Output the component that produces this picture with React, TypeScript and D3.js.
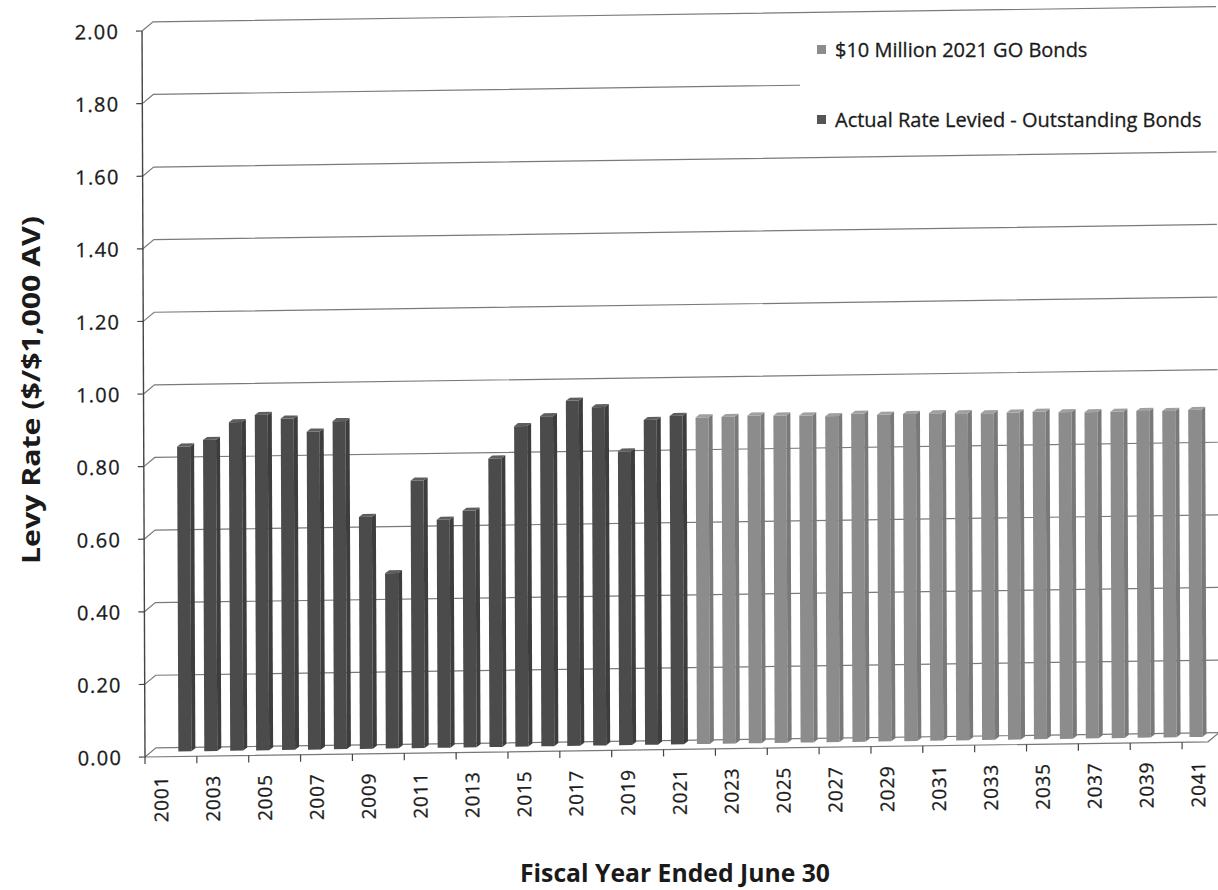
import React from 'react';
import * as d3 from 'd3';

const years = [2001, 2002, 2003, 2004, 2005, 2006, 2007, 2008, 2009, 2010, 2011, 2012, 2013, 2014, 2015, 2016, 2017, 2018, 2019, 2020, 2021, 2022, 2023, 2024, 2025, 2026, 2027, 2028, 2029, 2030, 2031, 2032, 2033, 2034, 2035, 2036, 2037, 2038, 2039, 2040, 2041];
const tickYears = [2001, 2003, 2005, 2007, 2009, 2011, 2013, 2015, 2017, 2019, 2021, 2023, 2025, 2027, 2029, 2031, 2033, 2035, 2037, 2039, 2041];
const outstandingYears = [2002, 2003, 2004, 2005, 2006, 2007, 2008, 2009, 2010, 2011, 2012, 2013, 2014, 2015, 2016, 2017, 2018, 2019, 2020, 2021];
const outstandingValues = [0.84, 0.857, 0.905, 0.924, 0.913, 0.876, 0.904, 0.639, 0.483, 0.737, 0.628, 0.652, 0.795, 0.883, 0.909, 0.951, 0.932, 0.809, 0.895, 0.905];
const goBondYears = [2022, 2023, 2024, 2025, 2026, 2027, 2028, 2029, 2030, 2031, 2032, 2033, 2034, 2035, 2036, 2037, 2038, 2039, 2040, 2041];
const goBondValues = [0.9, 0.9, 0.903, 0.902, 0.901, 0.898, 0.904, 0.9, 0.901, 0.902, 0.901, 0.9, 0.901, 0.902, 0.9, 0.899, 0.899, 0.9, 0.899, 0.901];
const yTicks = [0, 0.2, 0.4, 0.6, 0.8, 1.0, 1.2, 1.4, 1.6, 1.8, 2.0];
const legendLabels = ['$10 Million 2021 GO Bonds', 'Actual Rate Levied - Outstanding Bonds'];
const yTitle = 'Levy Rate ($/$1,000 AV)';
const xTitle = 'Fiscal Year Ended June 30';

const FONT = "'Open Sans', 'Liberation Sans', sans-serif";

type Palette = { front: string; side: string; top: string };
const darkPal: Palette = { front: '#4b4b4b', side: '#3d3d3d', top: '#5e5e5e' };
const lightPal: Palette = { front: '#8c8c8c', side: '#797979', top: '#a0a0a0' };

export default function App() {
  const W = 1218;
  const H = 890;
  const x = d3.scaleBand<number>().domain(years).range([0, 1063]).paddingInner(0).paddingOuter(0);
  const y = d3.scaleLinear().domain([0, 2]).range([0, -726]);
  const bw = x.bandwidth();
  const DX = 11, DY = -9; // back wall offset
  const BX = 3, BY = -5; // bar depth offset
  const SD = 4, SH = -3; // bar side depth
  const wallRight = 1074;

  const bar = (yr: number, v: number, pal: Palette, key: string) => {
    const cx = (x(yr) as number) + bw / 2 + BX;
    const bottom = BY;
    const top = BY + y(v);
    const l = cx - 8.5, r = cx + 4.5;
    return (
      <g key={key}>
        <rect x={l} y={top} width={r - l} height={bottom - top} fill={pal.front} />
        <polygon points={`${r},${top} ${r + SD},${top + SH} ${r + SD},${bottom + SH} ${r},${bottom}`} fill={pal.side} />
        <polygon points={`${l},${top} ${l + SD},${top + SH} ${r + SD},${top + SH} ${r},${top}`} fill={pal.top} />
      </g>
    );
  };

  return (
    <svg width={W} height={H} style={{ position: 'absolute', left: 0, top: 0, background: '#fff' }} fontFamily={FONT}>
      <rect x={0} y={0} width={W} height={H} fill="#fff" />
      <g transform="matrix(1,-0.0143,0.0041,1,145,757)">
        {/* gridlines on back wall */}
        {yTicks.map((t) => (
          <path key={'g' + t} d={`M0,${y(t)} L${DX},${y(t) + DY} L${wallRight},${y(t) + DY}`} fill="none" stroke="#7a7a7a" strokeWidth={1.2} />
        ))}
        {/* floor */}
        <path d={`M0,0 L${wallRight - DX},0 L${wallRight},${DY}`} fill="none" stroke="#777" strokeWidth={1.2} />
        {/* bars */}
        {outstandingYears.map((yr, i) => bar(yr, outstandingValues[i], darkPal, 'o' + yr))}
        {goBondYears.map((yr, i) => bar(yr, goBondValues[i], lightPal, 'n' + yr))}
        {/* y axis */}
        <line x1={0} y1={0} x2={0} y2={y(2)} stroke="#444" strokeWidth={1.4} />
        {yTicks.map((t) => (
          <line key={'yt' + t} x1={-6} y1={y(t)} x2={0} y2={y(t)} stroke="#444" strokeWidth={1.2} />
        ))}
        {yTicks.map((t) => (
          <text key={'yl' + t} x={-23} y={y(t)} textAnchor="end" dominantBaseline="central" fontSize={20} letterSpacing={1.2} fill="#1a1a1a" stroke="#1a1a1a" strokeWidth={0.3}>
            {t.toFixed(2)}
          </text>
        ))}
        {/* x ticks and labels */}
        {tickYears.map((yr) => (
          <line key={'xt' + yr} x1={x(yr) as number} y1={0} x2={x(yr) as number} y2={7} stroke="#444" strokeWidth={1.2} />
        ))}
        {tickYears.map((yr) => (
          <text key={'xl' + yr} transform={`translate(${(x(yr) as number) + bw / 2 + 3},19) rotate(-90)`} textAnchor="end" dominantBaseline="central" fontSize={19} letterSpacing={0.8} fill="#1a1a1a" stroke="#1a1a1a" strokeWidth={0.3}>
            {yr}
          </text>
        ))}
      </g>
      {/* legend */}
      <rect x={800} y={28} width={418} height={112} fill="#fff" />
      <rect x={817} y={45} width={9} height={9} fill="#8c8c8c" />
      <text x={835} y={49} dominantBaseline="central" fontSize={20} fill="#1a1a1a" stroke="#1a1a1a" strokeWidth={0.3}>{legendLabels[0]}</text>
      <rect x={817} y={115} width={9} height={9} fill="#555" />
      <text x={835} y={119} dominantBaseline="central" fontSize={20} fill="#1a1a1a" stroke="#1a1a1a" strokeWidth={0.3}>{legendLabels[1]}</text>
      {/* axis titles */}
      <text transform="translate(30,390) rotate(-90)" textAnchor="middle" dominantBaseline="central" fontSize={25} fontWeight="bold" fill="#1a1a1a" textLength={348} lengthAdjust="spacingAndGlyphs">{yTitle}</text>
      <text x={675} y={872} textAnchor="middle" dominantBaseline="central" fontSize={24.5} fontWeight="bold" fill="#1a1a1a" textLength={310} lengthAdjust="spacingAndGlyphs">{xTitle}</text>
    </svg>
  );
}
